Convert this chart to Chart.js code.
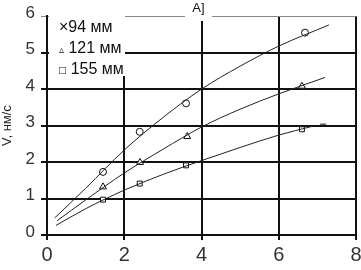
<!DOCTYPE html>
<html>
<head>
<meta charset="utf-8">
<script src="https://cdn.jsdelivr.net/npm/chart.js@4/dist/chart.umd.min.js"></script>
<style>
  body { margin: 0; background: #fff; }
  #wrap { position: relative; width: 361px; height: 270px; }
  .lbl { position: absolute; background: #fff; font-family: "Liberation Sans", Arial, sans-serif; color: #111; }
  #legend { left: 49px; top: 12px; width: 76px; height: 64px; font-size: 16px; }
  #legend div { position: absolute; left: 10px; white-space: nowrap; }
  #tag { left: 185px; top: 0px; width: 27px; height: 21px; font-size: 13px; text-align: center; line-height: 16px; }
</style>
</head>
<body>
<div id="wrap">
  <canvas id="chart" width="361" height="270"></canvas>
  <div id="legend" class="lbl">
    <div style="top:6px">×94 мм</div>
    <div style="top:27px"><span style="font-size:10px">▵</span> 121 мм</div>
    <div style="top:48px"><span style="font-size:12px">□</span> 155 мм</div>
  </div>
  <div id="tag" class="lbl">А]</div>
</div>
<script>
const xTicks = [0, 2, 4, 6, 8]
const yTicks = [0, 1, 2, 3, 4, 5, 6]

// measured points
const x94 = [1.45, 2.4, 3.6, 6.68]
const y94 = [1.73, 2.83, 3.61, 5.55]
const x121 = [1.45, 2.41, 3.63, 6.6]
const y121 = [1.32, 1.99, 2.7, 4.08]
const x155 = [1.45, 2.4, 3.6, 6.6]
const y155 = [0.97, 1.41, 1.91, 2.9]

// fitted curves
const fitX94 = [0.2, 1.0, 2.0, 3.0, 4.0, 5.0, 6.0, 7.3]
const fitY94 = [0.47, 1.28, 2.33, 3.22, 4.0, 4.63, 5.18, 5.76]
const fitX121 = [0.26, 1.0, 2.0, 3.0, 4.0, 5.0, 6.0, 7.2]
const fitY121 = [0.39, 0.96, 1.7, 2.35, 2.96, 3.45, 3.87, 4.32]
const fitX155 = [0.23, 1.0, 2.0, 3.0, 4.0, 5.0, 6.0, 6.87]
const fitY155 = [0.26, 0.72, 1.23, 1.66, 2.04, 2.4, 2.74, 2.98]
const strayX = [7.15]
const strayY = [3.04]

const pts = (xs, ys) => xs.map((x, i) => ({ x: x, y: ys[i] }))

const curve = (xs, ys) => ({
  data: pts(xs, ys),
  showLine: true,
  borderColor: '#222',
  borderWidth: 1,
  pointRadius: 0,
  tension: 0.4,
  cubicInterpolationMode: 'monotone'
})

const marks = (xs, ys, style, r) => ({
  data: pts(xs, ys),
  showLine: false,
  pointStyle: style,
  pointRadius: r,
  pointBorderColor: '#111',
  pointBackgroundColor: '#fff',
  pointBorderWidth: 1
})

const tickFont = { family: '"Liberation Sans", Arial, sans-serif' }

new Chart(document.getElementById('chart'), {
  type: 'scatter',
  data: {
    datasets: [
      curve(fitX94, fitY94),
      curve(fitX121, fitY121),
      curve(fitX155, fitY155),
      marks(x94, y94, 'circle', 3.5),
      marks(x94, y94, 'crossRot', 2.5),
      marks(x121, y121, 'triangle', 4),
      marks(x155, y155, 'rect', 3.5),
      marks(strayX, strayY, 'line', 3)
    ]
  },
  options: {
    responsive: false,
    animation: false,
    layout: { padding: { top: 6, right: 5, left: 0, bottom: 0 } },
    plugins: { legend: { display: false }, tooltip: { enabled: false } },
    scales: {
      x: {
        min: 0, max: 8,
        afterBuildTicks: s => { s.ticks = xTicks.map(v => ({ value: v })) },
        afterFit: s => { s.height = 35; s.paddingLeft = 0; s.paddingRight = 0 },
        grid: { color: '#111', lineWidth: 2, tickLength: 5 },
        border: { color: '#111', width: 2 },
        ticks: { color: '#333', font: { ...tickFont, size: 20 }, padding: 3, maxRotation: 0 }
      },
      y: {
        min: 0, max: 6,
        afterBuildTicks: s => { s.ticks = yTicks.map(v => ({ value: v })) },
        afterFit: s => { s.width = 47 },
        grid: {
          color: c => c.tick && c.tick.value === 6 ? '#888' : '#111',
          lineWidth: c => c.tick && c.tick.value === 6 ? 1 : 2,
          tickLength: 6
        },
        border: { color: '#111', width: 2 },
        ticks: { color: '#333', font: { ...tickFont, size: 17 }, padding: 6, labelOffset: -3 },
        title: {
          display: true,
          text: 'V, нм/с',
          color: '#222',
          font: { ...tickFont, size: 13 },
          padding: 0
        }
      }
    }
  }
})
</script>
</body>
</html>
